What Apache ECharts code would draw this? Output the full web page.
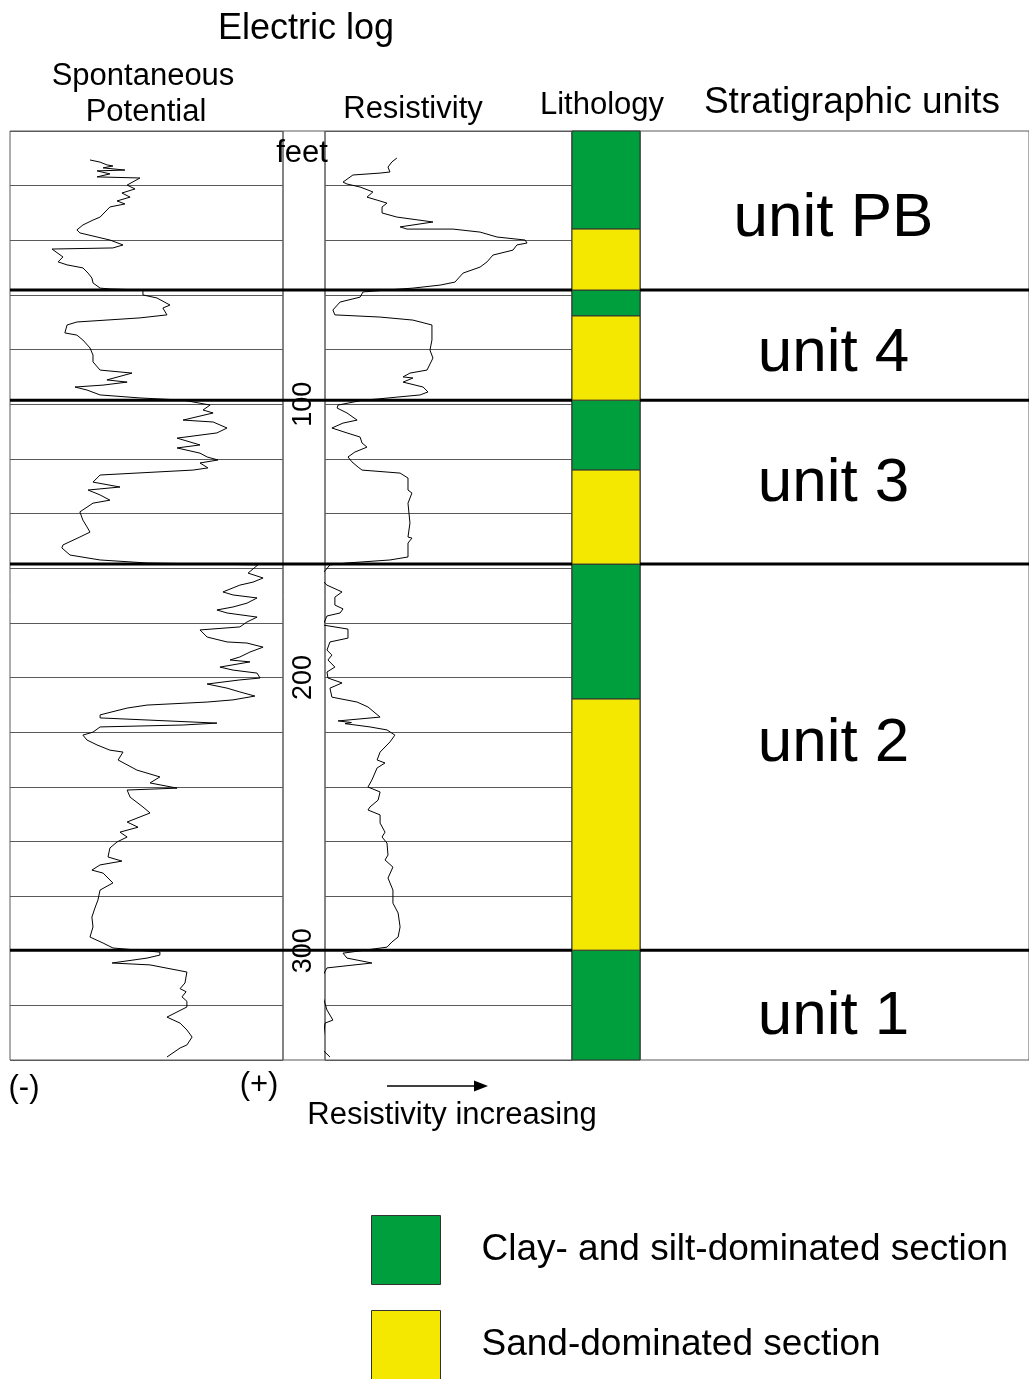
<!DOCTYPE html>
<html>
<head>
<meta charset="utf-8">
<script src="https://cdn.jsdelivr.net/npm/echarts@6/dist/echarts.min.js"></script>
<style>
  html, body { margin: 0; padding: 0; background: #fff; }
  #chart { width: 1029px; height: 1379px; }
</style>
</head>
<body>
<div id="chart"></div>
<script>
// depth in feet, curve deflection in % of track width
const spCurve = [
  [10.6, 29.3], [11.4, 33.0], [12.4, 35.5], [12.8, 37.7], [13.5, 34.1], [14.3, 42.1], [14.6, 31.9],
  [15.7, 36.6], [16.8, 31.9], [17.2, 47.6], [19.8, 42.9], [21.2, 45.8], [22.7, 41.0], [24.2, 44.0],
  [25.6, 39.2], [26.7, 42.1], [27.8, 36.6], [31.5, 33.0], [32.6, 30.4], [34.4, 26.7], [36.2, 24.5],
  [37.3, 25.6], [38.8, 31.9], [39.9, 36.6], [41.7, 41.4], [42.8, 37.7], [43.2, 15.4], [46.1, 19.4],
  [47.9, 17.6], [49.0, 20.9], [50.1, 26.7], [52.0, 28.6], [53.8, 30.0], [55.6, 30.4], [57.5, 33.0],
  [57.8, 36.6], [58.2, 48.7], [60.0, 48.7], [61.1, 53.8], [63.7, 58.6], [64.8, 56.0], [67.3, 57.5],
  [68.4, 47.6], [69.9, 24.5], [71.0, 20.9], [73.9, 20.1], [74.7, 24.5], [76.5, 26.7], [79.4, 29.3],
  [82.0, 30.4], [84.5, 30.4], [87.5, 33.0], [88.6, 44.7], [91.1, 35.5], [91.9, 42.9], [93.0, 34.1],
  [93.7, 23.8], [94.8, 28.2], [96.6, 33.0], [97.7, 47.6], [98.5, 63.4], [100.3, 73.3], [102.1, 70.7],
  [103.2, 74.4], [105.8, 63.4], [106.5, 74.4], [108.7, 79.5], [110.5, 75.8], [112.4, 61.2], [114.9, 69.6],
  [116.0, 61.2], [117.9, 69.6], [119.3, 72.2], [120.4, 76.2], [121.5, 69.6], [123.3, 72.5], [124.1, 67.0],
  [125.9, 33.0], [128.5, 30.4], [130.3, 40.3], [131.4, 28.6], [133.2, 33.0], [135.1, 36.6], [136.2, 30.4],
  [139.4, 25.6], [142.4, 26.7], [144.9, 28.2], [146.8, 29.3], [148.6, 25.6], [151.5, 19.4], [152.6, 19.0],
  [155.2, 22.0], [157.0, 33.0], [158.1, 50.2], [158.8, 90.8], [161.8, 87.2], [163.6, 92.7], [165.1, 89.0],
  [166.2, 84.2], [168.7, 78.0], [169.8, 81.7], [170.9, 90.5], [172.8, 86.8], [174.2, 81.7], [175.3, 75.8],
  [176.4, 79.5], [177.9, 90.5], [179.7, 86.8], [181.5, 84.2], [182.6, 69.6], [185.2, 72.2], [187.0, 79.5],
  [187.4, 86.8], [188.9, 92.7], [190.7, 87.9], [192.5, 84.2], [193.6, 80.6], [194.3, 87.9], [196.2, 76.9],
  [197.3, 81.7], [198.4, 90.5], [200.2, 91.6], [200.9, 84.2], [202.4, 72.2], [203.9, 79.5], [205.3, 84.2],
  [206.8, 89.7], [208.2, 81.7], [209.0, 72.2], [210.1, 50.2], [211.2, 42.9], [213.7, 33.0], [214.8, 33.0],
  [216.7, 75.8], [217.4, 63.4], [218.1, 33.0], [220.0, 30.4], [221.1, 26.7], [222.9, 28.2], [224.7, 31.9],
  [226.6, 36.6], [227.3, 41.4], [230.2, 39.6], [233.9, 46.5], [235.0, 50.2], [236.4, 54.9], [238.6, 51.3],
  [240.5, 61.2], [241.2, 42.9], [243.8, 44.0], [247.4, 48.7], [249.6, 51.3], [252.9, 42.9], [254.8, 46.9],
  [256.6, 40.3], [258.4, 42.9], [260.2, 39.2], [262.4, 36.6], [265.7, 35.9], [267.2, 41.0], [268.6, 33.0],
  [270.5, 30.0], [271.6, 34.1], [275.2, 37.7], [277.8, 33.0], [281.5, 32.2], [284.4, 31.1], [287.7, 30.0],
  [291.3, 30.4], [295.0, 29.3], [297.2, 34.1], [299.0, 37.7], [300.5, 54.9], [301.6, 54.9], [302.7, 50.2],
  [304.5, 37.4], [305.2, 51.3], [307.8, 64.8], [311.8, 64.1], [313.9, 62.3], [315.0, 64.5], [316.9, 63.0],
  [318.5, 64.8], [320.6, 64.8], [324.3, 57.5], [326.5, 62.3], [329.0, 64.8], [331.6, 66.7], [334.5, 64.8],
  [335.6, 62.3], [338.9, 57.5]
];

const resCurve = [
  [9.9, 29.1], [11.3, 27.1], [13.2, 25.5], [15.0, 26.3], [15.4, 22.3], [16.1, 11.3], [18.7, 7.3],
  [19.4, 8.9], [20.5, 14.2], [22.3, 19.4], [24.2, 17.0], [25.3, 21.1], [26.4, 25.1], [27.8, 23.1],
  [30.0, 23.1], [31.5, 29.1], [33.3, 43.7], [35.1, 30.4], [35.9, 33.2], [35.9, 51.8], [37.0, 62.8],
  [38.8, 69.6], [39.9, 81.0], [41.0, 81.8], [41.7, 77.7], [43.6, 76.1], [45.4, 68.0], [47.9, 65.6],
  [49.8, 62.8], [52.0, 55.9], [55.3, 52.6], [56.4, 46.6], [57.5, 35.6], [58.2, 25.1], [58.9, 15.4],
  [60.8, 14.2], [62.6, 6.1], [65.5, 3.2], [67.3, 4.0], [68.1, 22.3], [69.2, 35.6], [71.0, 43.3],
  [76.5, 43.3], [80.2, 42.5], [83.1, 43.7], [87.5, 41.3], [88.6, 34.4], [90.0, 31.6], [90.4, 35.6],
  [91.9, 31.6], [93.7, 39.7], [95.5, 41.7], [96.6, 38.5], [97.4, 29.1], [98.1, 21.1], [98.5, 15.4],
  [100.3, 5.3], [101.4, 4.9], [103.2, 8.9], [105.8, 13.0], [106.9, 7.3], [108.7, 2.8], [110.5, 8.9],
  [112.0, 14.2], [114.2, 15.0], [115.7, 17.0], [117.5, 12.1], [119.3, 9.3], [121.1, 10.9], [123.0, 13.4],
  [124.1, 15.0], [125.2, 30.4], [127.0, 33.6], [131.4, 33.6], [132.5, 35.2], [136.2, 33.6], [143.5, 34.4],
  [148.6, 33.6], [149.0, 35.2], [150.8, 33.6], [155.9, 33.6], [157.0, 26.3], [158.1, 8.9], [158.8, 2.0],
  [161.8, -0.8], [164.4, -1.2], [166.2, 0.8], [168.7, 6.9], [170.6, 4.0], [173.5, 4.0], [174.9, 7.3],
  [176.4, 6.1], [177.5, 0.8], [180.8, -0.8], [182.3, 9.3], [185.6, 9.3], [187.0, 2.0], [190.0, 0.8],
  [191.8, 2.8], [193.6, 1.2], [196.2, 4.0], [198.0, 0.8], [200.2, 1.2], [202.0, 6.9], [203.9, 2.0],
  [207.2, 2.8], [209.0, 13.0], [210.8, 17.4], [214.5, 22.3], [215.9, 5.3], [216.5, 10.7], [216.9, 8.1],
  [218.1, 18.2], [219.2, 25.1], [221.1, 28.3], [223.6, 26.3], [227.3, 22.3], [230.2, 21.1], [231.3, 24.3],
  [233.1, 21.1], [237.5, 19.0], [240.1, 17.4], [241.9, 22.3], [244.9, 21.5], [247.4, 18.2], [248.5, 17.4],
  [250.3, 22.3], [253.3, 22.3], [256.6, 24.3], [258.4, 23.1], [260.6, 25.1], [265.0, 25.5], [266.8, 24.3],
  [269.4, 27.5], [273.4, 25.5], [277.8, 27.5], [282.6, 27.5], [286.2, 29.6], [291.3, 30.4], [295.0, 29.6],
  [296.8, 27.1], [298.7, 25.1], [299.4, 19.4], [300.9, 7.3], [302.7, 8.9], [304.5, 19.0], [306.3, 0.8],
  [309.6, -1.2], [316.9, -0.8], [321.7, 0.8], [325.4, 3.2], [326.5, 0.0], [332.7, -0.8], [336.4, -0.8],
  [338.9, 2.0]
];

const lithClay = [[0, 35.9], [58.2, 67.7], [98.5, 124.1], [158.5, 207.9], [299.8, 340]];
const lithSand = [[35.9, 58.2], [67.7, 98.5], [124.1, 158.5], [207.9, 299.8]];

const unitNames = ['unit PB', 'unit 4', 'unit 3', 'unit 2', 'unit 1'];
const unitLabelDepths = [32.2, 81.6, 129.2, 224.4, 324.3];
const unitBoundaries = [58.2, 98.5, 158.5, 299.8];

const depthLabels = [100, 200, 300];
const maxDepth = 340;

const legendNames = ['Clay- and silt-dominated section', 'Sand-dominated section'];

const FONT = '"Liberation Sans", Arial, sans-serif';
const GREEN = '#009f3d';
const YELLOW = '#f5e800';
const FRAME = '#5a5a5a';

const chart = echarts.init(document.getElementById('chart'), null, { renderer: 'canvas' });

const tracks = [
  { left: 10, width: 273, grid: true },   // SP
  { left: 283, width: 42, grid: false },  // depth
  { left: 325, width: 247, grid: true },  // resistivity
  { left: 572, width: 68, grid: false },  // lithology
  { left: 640, width: 392, grid: false }  // units
];

const grid = tracks.map((t) => ({
  left: t.left, width: t.width, top: 131, height: 929,
  show: true, borderColor: FRAME, borderWidth: 1, containLabel: false
}));

const xAxis = tracks.map((t, i) => ({
  gridIndex: i, type: 'value', min: 0, max: 100, show: false
}));

const yAxis = tracks.map((t, i) => ({
  gridIndex: i, type: 'value', inverse: true, min: 0, max: maxDepth, interval: 20,
  axisLine: { show: false }, axisTick: { show: false }, axisLabel: { show: false },
  splitLine: { show: t.grid, lineStyle: { color: FRAME, width: 1 } }
}));

function boundarySeries(i) {
  return {
    type: 'custom', xAxisIndex: i, yAxisIndex: i, silent: true, z: 5,
    encode: { y: 0 },
    data: unitBoundaries.map((d) => [d]),
    renderItem: (params, api) => {
      const a = api.coord([0, api.value(0)]);
      const b = api.coord([100, api.value(0)]);
      return { type: 'line', shape: { x1: a[0], y1: a[1], x2: b[0], y2: b[1] },
        style: { stroke: '#000', lineWidth: 3 } };
    }
  };
}

function lithSeries(name, blocks, color) {
  return {
    name, type: 'custom', xAxisIndex: 3, yAxisIndex: 3, silent: true, z: 3,
    encode: { y: [0, 1] },
    itemStyle: { color, borderColor: '#333', borderWidth: 1 },
    data: blocks,
    renderItem: (params, api) => {
      const a = api.coord([0, api.value(0)]);
      const b = api.coord([100, api.value(1)]);
      return { type: 'rect', shape: { x: a[0], y: a[1], width: b[0] - a[0], height: b[1] - a[1] },
        style: { fill: color, stroke: '#333', lineWidth: 1 } };
    }
  };
}

const series = [
  {
    name: 'Spontaneous Potential', type: 'line', xAxisIndex: 0, yAxisIndex: 0,
    data: spCurve.map(([d, v]) => [v, d]), showSymbol: false, symbol: 'none',
    lineStyle: { color: '#000', width: 1 }, clip: false, silent: true, z: 4
  },
  {
    name: 'Resistivity', type: 'line', xAxisIndex: 2, yAxisIndex: 2,
    data: resCurve.map(([d, v]) => [v, d]), showSymbol: false, symbol: 'none',
    lineStyle: { color: '#000', width: 1 }, clip: false, silent: true, z: 4
  },
  {
    type: 'custom', xAxisIndex: 1, yAxisIndex: 1, silent: true, z: 6,
    encode: { y: 0 },
    data: depthLabels.map((d) => [d]),
    renderItem: (params, api) => {
      const p = api.coord([50, api.value(0)]);
      return { type: 'text', x: p[0], y: p[1], rotation: Math.PI / 2,
        style: { text: String(api.value(0)), font: '27px ' + FONT, fill: '#000',
          align: 'center', verticalAlign: 'middle', textAlign: 'center', textVerticalAlign: 'middle' } };
    }
  },
  lithSeries(legendNames[0], lithClay, GREEN),
  lithSeries(legendNames[1], lithSand, YELLOW),
  {
    type: 'custom', xAxisIndex: 4, yAxisIndex: 4, silent: true, z: 6,
    encode: { y: 0 },
    data: unitLabelDepths.map((d) => [d]),
    renderItem: (params, api) => {
      const p = api.coord([50, api.value(0)]);
      return { type: 'text', x: p[0] - 1, y: p[1],
        style: { text: unitNames[params.dataIndex], font: '62px ' + FONT, fill: '#000',
          align: 'center', verticalAlign: 'middle', textAlign: 'center', textVerticalAlign: 'middle' } };
    }
  },
  boundarySeries(0),
  boundarySeries(1),
  boundarySeries(2),
  boundarySeries(4)
];

function label(text, x, y, size) {
  return { type: 'text', x, y, silent: true,
    style: { text, font: size + 'px ' + FONT, fill: '#000',
      align: 'center', verticalAlign: 'middle', textAlign: 'center', textVerticalAlign: 'middle' } };
}

const graphic = [
  label('Electric log', 306, 29, 36),
  label('Spontaneous', 143, 76, 31),
  label('Potential', 146, 112, 31),
  label('Resistivity', 413, 109, 31),
  label('Lithology', 602, 105, 31),
  label('Stratigraphic units', 852, 103, 37),
  label('feet', 302, 153, 31),
  label('(-)', 24, 1088, 31),
  label('(+)', 259, 1085, 31),
  label('Resistivity increasing', 452, 1115, 31),
  { type: 'line', silent: true, shape: { x1: 387, y1: 1086, x2: 482, y2: 1086 },
    style: { stroke: '#000', lineWidth: 1.5 } },
  { type: 'polygon', silent: true, shape: { points: [[474, 1080.5], [488, 1086], [474, 1091.5]] },
    style: { fill: '#000' } }
];

const legend = legendNames.map((name, i) => ({
  data: [name],
  orient: 'vertical', left: 371, top: 1215 + i * 95, padding: 0,
  itemWidth: 69, itemHeight: 69, icon: 'rect',
  selectedMode: false,
  itemStyle: { borderColor: '#333', borderWidth: 1 },
  textStyle: { fontFamily: FONT, fontSize: 37, color: '#000', padding: [10, 0, 0, 36] }
}));

chart.setOption({
  animation: false,
  backgroundColor: '#fff',
  grid, xAxis, yAxis, series, graphic, legend
});
</script>
</body>
</html>
